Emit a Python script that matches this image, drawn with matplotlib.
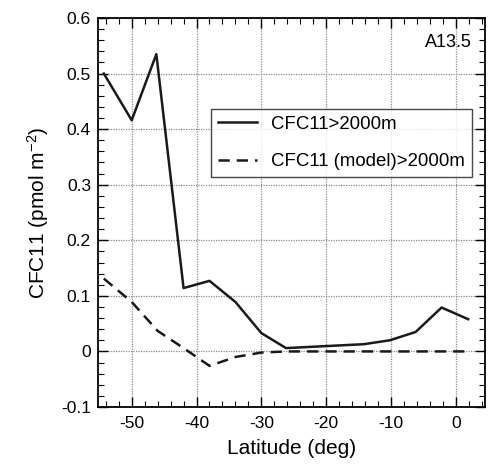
import numpy as np
import matplotlib.pyplot as plt
from matplotlib.ticker import MultipleLocator

plt.rcParams['font.family'] = ['Liberation Sans', 'DejaVu Sans']
plt.rcParams['mathtext.fontset'] = 'custom'
plt.rcParams['mathtext.rm'] = 'Liberation Sans'
plt.rcParams['mathtext.default'] = 'regular'

# observed CFC11 inventory below 2000 m
lat_obs = [-54.3, -50, -46.2, -42, -38, -34, -30, -26.2, -14.2, -10.2, -6.2, -2.2, 1.9]
cfc_obs = [0.500, 0.416, 0.535, 0.114, 0.127, 0.089, 0.033, 0.006, 0.013, 0.020, 0.035, 0.079, 0.058]

# model CFC11 inventory below 2000 m
lat_mod = [-54.3, -50, -46, -42, -38, -34, -30, -26, -22, -18, -14, -10, -6, -2, 1.9]
cfc_mod = [0.131, 0.089, 0.037, 0.006, -0.026, -0.010, -0.002, 0.0, 0.0, 0.0, 0.0, 0.0, 0.0, 0.0, 0.0]

fig = plt.figure(figsize=(4.9, 4.69), dpi=100)
ax = fig.add_axes([98/490, 1-407/469, 387/490, 389/469])

ax.plot(lat_obs, cfc_obs, '-', color='#1a1a1a', lw=1.8, label='CFC11>2000m')
ax.plot(lat_mod, cfc_mod, '--', color='#1a1a1a', lw=1.8, dashes=(4.5, 2.8),
        label='CFC11 (model)>2000m')

ax.set_xlim(-55.2, 4.5)
ax.set_ylim(-0.1, 0.6)
ax.xaxis.set_minor_locator(MultipleLocator(2))
ax.yaxis.set_minor_locator(MultipleLocator(0.02))
ax.set_yticks([-0.1, 0, 0.1, 0.2, 0.3, 0.4, 0.5, 0.6])
ax.set_yticklabels(['-0.1', '0', '0.1', '0.2', '0.3', '0.4', '0.5', '0.6'])
ax.set_xticks([-50, -40, -30, -20, -10, 0])
ax.set_xticklabels(['-50', '-40', '-30', '-20', '-10', '0'])

ax.grid(True, which='major', color='#8c8c8c', ls=(0, (1, 1)), lw=0.9)
ax.tick_params(which='both', direction='in', top=True, right=True, labelsize=12.6)
ax.tick_params(which='major', length=7, width=1)
ax.tick_params(which='minor', length=4, width=0.8)
ax.tick_params(axis='x', which='major', pad=6.5)
ax.tick_params(axis='y', which='major', pad=5)
for s in ax.spines.values():
    s.set_linewidth(1.3)

ax.set_xlabel('Latitude (deg)', fontsize=15, labelpad=6)
ax.set_ylabel('CFC11 (pmol m$^{-2}$)', fontsize=15, labelpad=7)

ax.text(0.965, 0.96, 'A13.5', transform=ax.transAxes, ha='right', va='top', fontsize=13)

leg = ax.legend(loc='upper left', bbox_to_anchor=((211 - 98)/387, (407 - 109)/389),
                fontsize=13.4, frameon=True, fancybox=False, edgecolor='#1a1a1a',
                handlelength=2.1, handletextpad=0.8, labelspacing=1.1,
                borderpad=0.35, borderaxespad=0)
leg.get_frame().set_linewidth(1.0)

fig.savefig('out.png', dpi=100)
